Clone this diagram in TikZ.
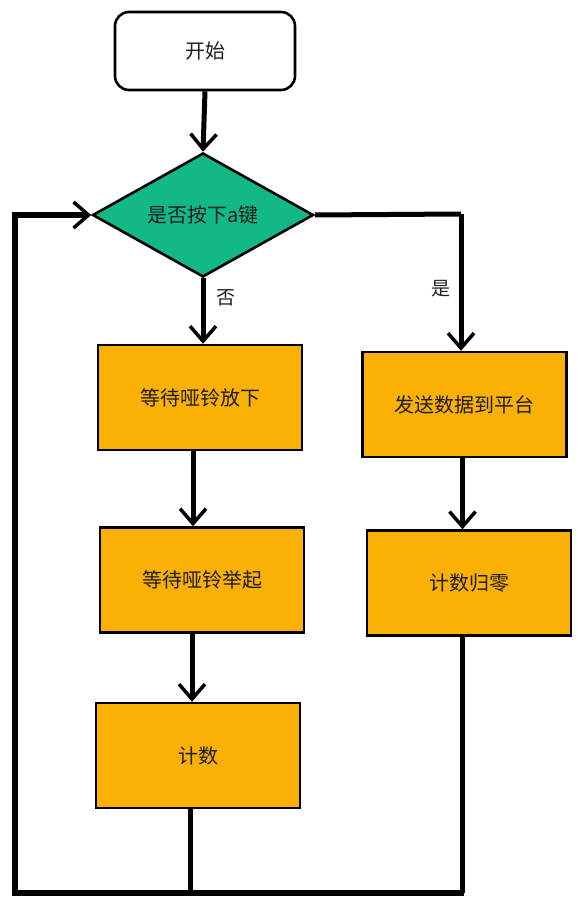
\documentclass[tikz,border=0pt]{standalone}
\usepackage{fontspec}
\setmainfont{Noto Sans CJK SC}
\usetikzlibrary{arrows.meta,shapes.geometric}
\definecolor{boxorange}{HTML}{FAB005}
\definecolor{dgreen}{HTML}{12B886}
\definecolor{ink}{HTML}{1E1E1E}
\tikzset{
  txt/.style={font=\fontsize{20}{23}\selectfont, text=ink},
  procbox/.style={draw=black, line width=2.4pt, fill=boxorange, minimum width=204pt, minimum height=105pt, inner sep=0pt, txt},
  startbox/.style={draw=black, line width=2.6pt, fill=white, rounded corners=14pt, minimum width=180pt, minimum height=78pt, inner sep=0pt, txt},
  decbox/.style={diamond, draw=black, line width=2.6pt, fill=dgreen, minimum width=221pt, minimum height=124pt, inner sep=0pt, aspect=1.78, txt},
  conn/.style={draw=black, line width=5pt},
  arr/.style={conn, -{Straight Barb[length=15pt,width=26pt,line width=3.5pt]}},
  lbl/.style={txt, font=\fontsize{19}{21}\selectfont}
}
\begin{document}
\begin{tikzpicture}[x=1pt,y=-1pt]
\useasboundingbox (0,0) rectangle (580,909);
\node[startbox] (start) at (205,51) {开始};
\node[decbox] (dec) at (203,215) {是否按下a键};
\node[procbox] (b1) at (200,397.5) {等待哑铃放下};
\node[procbox] (b2) at (202,580) {等待哑铃举起};
\node[procbox] (b3) at (198,755.5) {计数};
\node[procbox] (b4) at (464.5,404.5) {发送数据到平台};
\node[procbox] (b5) at (469,583) {计数归零};
\coordinate (r1) at (461,214);
\coordinate (bl) at (15,893);
\coordinate (br) at (464,893);
\node[lbl] (no) at (226,298) {否};
\node[lbl] (yes) at (441,289) {是};
% connectors
\draw[arr] (start.south) -- (dec.north);
\draw[arr] (dec.south) -- (dec.south |- b1.north);
\draw[conn] (dec.east) -- (r1);
\draw[arr] (r1) -- (r1 |- b4.north);
\draw[arr] ([xshift=-7pt]b1.south) -- ([xshift=-7pt]b1.south |- b2.north);
\draw[arr] ([xshift=-10pt]b2.south) -- ([xshift=-10pt]b2.south |- b3.north);
\draw[arr] ([xshift=-2pt]b4.south) -- ([xshift=-2pt]b4.south |- b5.north);
\draw[conn] ([xshift=-8pt]b3.south) -- ([xshift=-8pt]b3.south |- bl);
\draw[conn] ([xshift=-7pt]b5.south) -- ([xshift=-7pt]b5.south |- br);
\draw[arr, line width=5.5pt] (br) -- (bl) -- (bl |- dec.west) -- (dec.west);
\end{tikzpicture}
\end{document}
